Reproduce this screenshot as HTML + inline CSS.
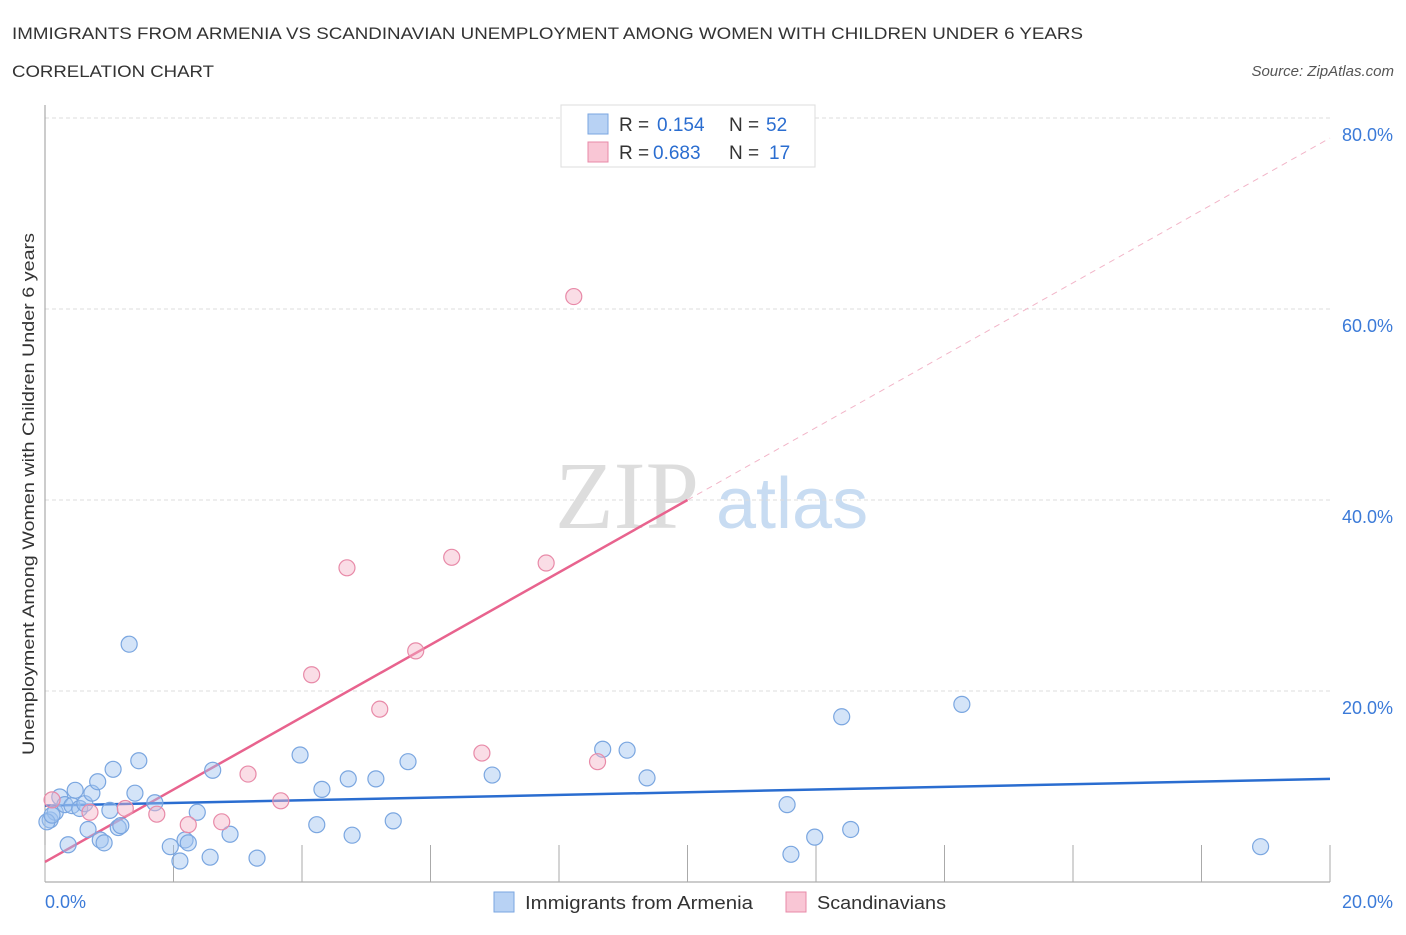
<!DOCTYPE html>
<html><head><meta charset="utf-8"><style>
body{margin:0;background:#fff;font-family:"Liberation Sans",sans-serif}
svg text{font-family:"Liberation Sans",sans-serif}
</style></head><body>
<svg id="c" width="1406" height="930" xmlns="http://www.w3.org/2000/svg">
<text x="12" y="39" font-size="17" fill="#333" textLength="1071" lengthAdjust="spacingAndGlyphs">IMMIGRANTS FROM ARMENIA VS SCANDINAVIAN UNEMPLOYMENT AMONG WOMEN WITH CHILDREN UNDER 6 YEARS</text>
<text x="12" y="77" font-size="17" fill="#333" textLength="202" lengthAdjust="spacingAndGlyphs">CORRELATION CHART</text>
<text x="1394" y="76" font-size="15" fill="#555" font-style="italic" text-anchor="end">Source: ZipAtlas.com</text>
<text transform="translate(34,494) rotate(-90)" font-size="17" fill="#333" text-anchor="middle" textLength="522" lengthAdjust="spacingAndGlyphs">Unemployment Among Women with Children Under 6 years</text>
<text x="555" y="528" font-size="96" fill="#ddd" style="font-family:'Liberation Serif',serif">ZIP</text>
<text x="716" y="528" font-size="72" fill="#c8dcf2">atlas</text>
<g id="grid"></g><g id="axes"></g><g id="lines"></g><g id="pts"></g>
<g>
<rect x="561" y="105" width="254" height="62" fill="#fff" stroke="#ddd"/>
<rect x="588" y="114" width="20" height="20" fill="#b8d2f4" stroke="#7aa6e0"/>
<text x="619" y="131" font-size="19" fill="#333">R =</text><text x="657" y="131" font-size="19" fill="#2a6dd0">0.154</text>
<text x="729" y="131" font-size="19" fill="#333">N =</text><text x="766" y="131" font-size="19" fill="#2a6dd0">52</text>
<rect x="588" y="142" width="20" height="20" fill="#f9c6d5" stroke="#e88aa8"/>
<text x="619" y="159" font-size="19" fill="#333">R =</text><text x="653" y="159" font-size="19" fill="#2a6dd0">0.683</text>
<text x="729" y="159" font-size="19" fill="#333">N =</text><text x="769" y="159" font-size="19" fill="#2a6dd0">17</text>
</g>
<g>
<rect x="494" y="892" width="20" height="20" fill="#b8d2f4" stroke="#7aa6e0"/>
<text x="525" y="909" font-size="18" fill="#333" textLength="228" lengthAdjust="spacingAndGlyphs">Immigrants from Armenia</text>
<rect x="786" y="892" width="20" height="20" fill="#f9c6d5" stroke="#e88aa8"/>
<text x="817" y="909" font-size="18" fill="#333" textLength="129" lengthAdjust="spacingAndGlyphs">Scandinavians</text>
</g>
</svg>
<script>
const blueX=[0.08,0.16,0.23,0.31,0.36,0.42,0.47,0.54,0.62,0.67,0.73,0.82,0.86,0.92,1.01,1.06,1.14,1.18,1.31,1.40,1.46,1.71,1.95,2.10,2.18,2.23,2.37,2.57,2.61,2.88,3.30,3.97,4.23,4.31,4.72,4.78,5.15,5.42,5.65,6.96,8.68,9.06,9.37,11.55,11.61,11.98,12.40,12.54,14.27,18.92,0.03,0.11];
const blueY=[6.5,7.3,8.9,8.1,3.9,8.0,9.6,7.7,8.2,5.5,9.3,10.5,4.4,4.1,7.5,11.8,5.7,5.9,24.9,9.3,12.7,8.3,3.7,2.2,4.4,4.1,7.3,2.6,11.7,5.0,2.5,13.3,6.0,9.7,10.8,4.9,10.8,6.4,12.6,11.2,13.9,13.8,10.9,8.1,2.9,4.7,17.3,5.5,18.6,3.7,6.3,7.0];
const pinkX=[0.11,0.70,1.25,1.74,2.23,2.75,3.16,3.67,4.15,4.70,5.21,5.77,6.33,6.80,7.80,8.23,8.60];
const pinkY=[8.6,7.3,7.7,7.1,6.0,6.3,11.3,8.5,21.7,32.9,18.1,24.2,34.0,13.5,33.4,61.3,12.6];
const blueTrend=[8.0,10.8];
const pinkTrend=[2.1,77.9];
const yTicks=[20,40,60,80];
const xTickLabels=["0.0%","20.0%"];
const NS="http://www.w3.org/2000/svg";
const X=v=>45+v/20*1285, Y=v=>882-v*9.55;
function mk(p,t,a){const e=document.createElementNS(NS,t);for(const k in a)e.setAttribute(k,a[k]);document.getElementById(p).appendChild(e);return e;}
yTicks.forEach(t=>{
 const l=mk('grid','line',{x1:45,x2:1330,y1:Y(t),y2:Y(t),stroke:'#ddd','stroke-dasharray':'4,3'});
 
 
 const tx=mk('grid','text',{x:1393,y:Y(t)+23,'font-size':18,fill:'#3b7ad8','text-anchor':'end'});
 tx.textContent=t.toFixed(1)+'%';
 
 
});
const ax=mk('axes','line',{x1:45,x2:45,y1:105,y2:882,stroke:'#999'});


const bx=mk('axes','line',{x1:45,x2:1330,y1:882,y2:882,stroke:'#999'});


for(let i=0;i<=10;i++){const t=mk('axes','line',{x1:X(i*2),x2:X(i*2),y1:845,y2:882,stroke:'#aaa'});
 
 }
[[0,45,'start'],[20,1393,'end']].forEach((d,i)=>{const t=mk('axes','text',{x:d[1],y:908,'font-size':18,fill:'#3b7ad8','text-anchor':d[2]});t.textContent=xTickLabels[i];
 
 });
function py(x){return pinkTrend[0]+(pinkTrend[1]-pinkTrend[0])*x/20;}
const ps=mk('lines','line',{x1:X(0),y1:Y(py(0)),x2:X(10),y2:Y(py(10)),stroke:'#e8638e','stroke-width':2.5});


const pd=mk('lines','line',{x1:X(10),y1:Y(py(10)),x2:X(20),y2:Y(py(20)),stroke:'#f2b5c8','stroke-width':1,'stroke-dasharray':'6,5'});


const bl=mk('lines','line',{x1:X(0),y1:Y(blueTrend[0]),x2:X(20),y2:Y(blueTrend[1]),stroke:'#2a6dd0','stroke-width':2.5});


blueX.forEach((x,i)=>{const c=mk('pts','circle',{cx:X(x),cy:Y(blueY[i]),r:8,fill:'rgba(160,195,240,0.45)',stroke:'#7aa6e0','stroke-width':1.2});
 
 });
pinkX.forEach((x,i)=>{const c=mk('pts','circle',{cx:X(x),cy:Y(pinkY[i]),r:8,fill:'rgba(245,180,200,0.45)',stroke:'#e88aa8','stroke-width':1.2});
 
 });
</script>
</body></html>
